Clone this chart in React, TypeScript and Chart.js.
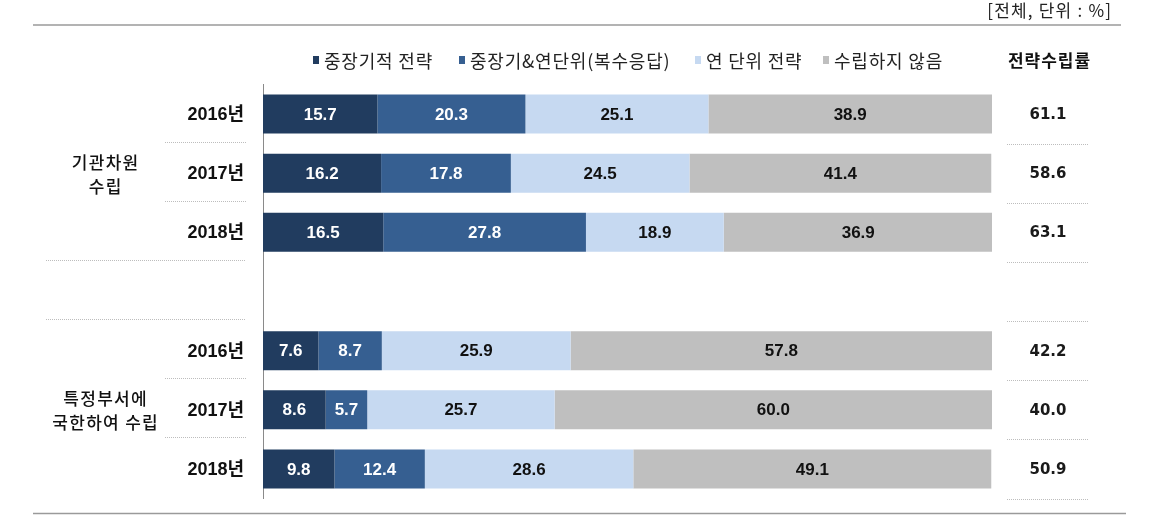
import React, { useEffect, useRef } from 'react';
import { Chart, registerables } from 'chart.js';

Chart.register(...registerables);

// ---- data ----
const categories = ['2016년', '2017년', '2018년', '', '2016년', '2017년', '2018년'];
const groupLabels = [
  ['기관차원', '수립'],
  ['특정부서에', '국한하여 수립'],
];
const seriesNames = ['중장기적 전략', '중장기&연단위(복수응답)', '연 단위 전략', '수립하지 않음'];
const midLong = [15.7, 16.2, 16.5, null, 7.6, 8.6, 9.8];
const midLongAnnual = [20.3, 17.8, 27.8, null, 8.7, 5.7, 12.4];
const annual = [25.1, 24.5, 18.9, null, 25.9, 25.7, 28.6];
const notEstablished = [38.9, 41.4, 36.9, null, 57.8, 60.0, 49.1];
const establishRate = [61.1, 58.6, 63.1, null, 42.2, 40.0, 50.9];
const rateTitle = '전략수립률';
const unitNote = '[전체, 단위 : %]';

// ---- styles ----
const COLORS = ['#213C5F', '#365F91', '#C6D9F1', '#BFBFBF'];
const LABEL_COLORS = ['#ffffff', '#ffffff', '#111111', '#111111'];
const KR = "'Noto Sans CJK KR', 'Noto Sans', sans-serif";

// draw text with manual letter spacing; align: 'left' | 'center' | 'right'
function spaced(ctx: CanvasRenderingContext2D, text: string, x: number, y: number, sp: number, align: string) {
  const chars = Array.from(text);
  const widths = chars.map((c) => ctx.measureText(c).width);
  const total = widths.reduce((a, b) => a + b, 0) + sp * (chars.length - 1);
  let start = x;
  if (align === 'center') start = x - total / 2;
  else if (align === 'right') start = x - total;
  const prevAlign = ctx.textAlign;
  ctx.textAlign = 'left';
  let cx = start;
  chars.forEach((c, i) => {
    ctx.fillText(c, cx, y);
    cx += widths[i] + sp;
  });
  ctx.textAlign = prevAlign;
  return total;
}

const overlay = {
  id: 'overlay',
  afterDatasetsDraw(chart: any) {
    const ctx = chart.ctx as CanvasRenderingContext2D;
    ctx.save();
    ctx.textAlign = 'center';
    ctx.textBaseline = 'middle';
    ctx.font = "bold 17px 'Liberation Sans', Arial, sans-serif";
    chart.data.datasets.forEach((ds: any, di: number) => {
      const meta = chart.getDatasetMeta(di);
      meta.data.forEach((el: any, i: number) => {
        const v = ds.data[i];
        if (v == null) return;
        const cx = (el.x + el.base) / 2;
        ctx.fillStyle = LABEL_COLORS[di];
        ctx.fillText(Number(v).toFixed(1), cx, el.y + 1);
      });
    });
    ctx.restore();
  },
  afterDraw(chart: any) {
    const ctx = chart.ctx as CanvasRenderingContext2D;
    const y = chart.scales.y;
    const step = Math.abs(y.getPixelForValue(1) - y.getPixelForValue(0));
    ctx.save();
    ctx.textBaseline = 'middle';

    // unit note
    ctx.fillStyle = '#222';
    ctx.font = `17px ${KR}`;
    spaced(ctx, unitNote, 1111, 11, 1.2, 'right');

    // top and bottom rules
    ctx.strokeStyle = '#9a9a9a';
    ctx.lineWidth = 1.5;
    ctx.beginPath();
    ctx.moveTo(33, 25);
    ctx.lineTo(1121, 25);
    ctx.moveTo(33, 513.5);
    ctx.lineTo(1126, 513.5);
    ctx.stroke();

    // legend
    const legendX = [313, 459, 695, 823];
    ctx.font = `18px ${KR}`;
    seriesNames.forEach((name, i) => {
      ctx.fillStyle = COLORS[i];
      ctx.fillRect(legendX[i], 56, 6, 8);
      ctx.fillStyle = '#222';
      spaced(ctx, name, legendX[i] + 11, 61, 0.8, 'left');
    });

    // rate header
    ctx.font = `bold 17px ${KR}`;
    ctx.fillStyle = '#111';
    spaced(ctx, rateTitle, 1049, 61, 1, 'center');

    // year labels
    ctx.font = `bold 18px 'Liberation Sans', ${KR}`;
    ctx.textAlign = 'right';
    ctx.fillStyle = '#111';
    categories.forEach((c, i) => {
      if (!c) return;
      ctx.fillText(c, 244, y.getPixelForValue(i) + 1);
    });

    // group labels
    ctx.font = `500 17px ${KR}`;
    const groupRows = [[0, 2], [4, 6]];
    groupLabels.forEach((lines, g) => {
      const cy = (y.getPixelForValue(groupRows[g][0]) + y.getPixelForValue(groupRows[g][1])) / 2;
      lines.forEach((ln, k) => {
        spaced(ctx, ln, 105, cy - 11 + k * 24, 1.3, 'center');
      });
    });

    // rate values
    ctx.font = "bold 15px 'DejaVu Sans', sans-serif";
    ctx.textAlign = 'center';
    ctx.fillStyle = '#1a1a1a';
    establishRate.forEach((v, i) => {
      if (v == null) return;
      ctx.fillText(v.toFixed(1), 1048, y.getPixelForValue(i) + 1);
    });

    // dotted separators
    ctx.strokeStyle = '#bdbdbd';
    ctx.lineWidth = 1;
    ctx.setLineDash([1, 1]);
    const dline = (x1: number, x2: number, yy: number) => {
      ctx.beginPath();
      ctx.moveTo(x1, Math.round(yy) + 0.5);
      ctx.lineTo(x2, Math.round(yy) + 0.5);
      ctx.stroke();
    };
    const after = (i: number, off: number) => y.getPixelForValue(i) + step / 2 + off;
    // left
    dline(165, 246, after(0, -2));
    dline(165, 246, after(1, -2));
    dline(46, 246, after(2, -2));
    dline(46, 246, after(3, -2));
    dline(165, 246, after(4, -2));
    dline(165, 246, after(5, -2));
    // right
    [0, 1, 2, 3, 4, 5, 6].forEach((i) => {
      dline(1007, 1089, after(i, 0));
    });
    ctx.setLineDash([]);
    ctx.restore();
  },
};

export default function App() {
  const ref = useRef<HTMLCanvasElement | null>(null);
  useEffect(() => {
    if (!ref.current) return;
    const seriesData = [midLong, midLongAnnual, annual, notEstablished];
    const chart = new Chart(ref.current, {
      type: 'bar',
      data: {
        labels: categories,
        datasets: seriesNames.map((name, i) => ({
          label: name,
          data: seriesData[i] as any,
          backgroundColor: COLORS[i],
          borderWidth: 0,
          barPercentage: 0.66,
          categoryPercentage: 1,
        })),
      },
      options: {
        indexAxis: 'y',
        responsive: false,
        animation: false,
        devicePixelRatio: 1,
        events: [],
        layout: { padding: { left: 263, right: 162, top: 84.5, bottom: 30.5 } },
        plugins: {
          legend: { display: false },
          tooltip: { enabled: false },
          title: { display: false },
        },
        scales: {
          x: {
            display: false,
            stacked: true,
            min: 0,
            max: 100,
          },
          y: {
            display: true,
            stacked: true,
            grid: { display: false, drawTicks: false },
            ticks: { display: false },
            border: { display: true, color: '#8a8a8a', width: 1 },
            afterFit: (s: any) => {
              s.width = 0;
            },
          },
        },
      } as any,
      plugins: [overlay],
    });
    return () => chart.destroy();
  }, []);
  return (
    <div style={{ position: 'fixed', left: 0, top: 0, width: 1154, height: 529, background: '#fff' }}>
      <canvas ref={ref} width={1154} height={529} style={{ width: 1154, height: 529, display: 'block' }} />
    </div>
  );
}
